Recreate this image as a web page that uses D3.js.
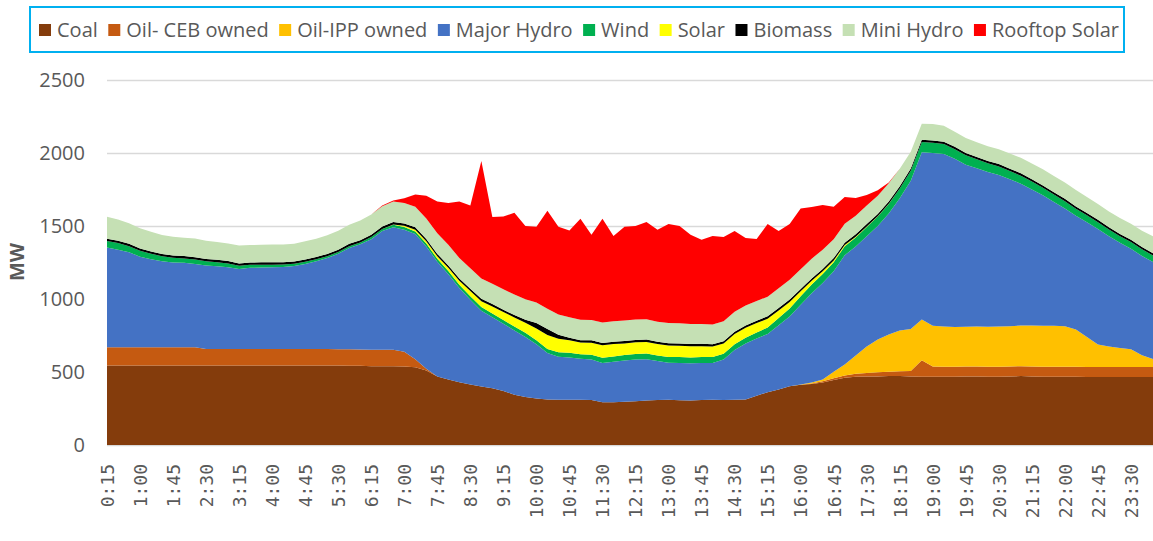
<!DOCTYPE html>
<html>
<head>
<meta charset="utf-8">
<script src="https://cdn.jsdelivr.net/npm/d3@7"></script>
<style>
  html, body { margin: 0; padding: 0; background: #fff; }
  svg { display: block; }
</style>
</head>
<body>
<svg id="chart" width="1153" height="541"></svg>
<script>
const times = ["0:15","0:30","0:45","1:00","1:15","1:30","1:45","2:00","2:15","2:30","2:45","3:00",
"3:15","3:30","3:45","4:00","4:15","4:30","4:45","5:00","5:15","5:30","5:45","6:00",
"6:15","6:30","6:45","7:00","7:15","7:30","7:45","8:00","8:15","8:30","8:45","9:00",
"9:15","9:30","9:45","10:00","10:15","10:30","10:45","11:00","11:15","11:30","11:45","12:00",
"12:15","12:30","12:45","13:00","13:15","13:30","13:45","14:00","14:15","14:30","14:45","15:00",
"15:15","15:30","15:45","16:00","16:15","16:30","16:45","17:00","17:15","17:30","17:45","18:00",
"18:15","18:30","18:45","19:00","19:15","19:30","19:45","20:00","20:15","20:30","20:45","21:00",
"21:15","21:30","21:45","22:00","22:15","22:30","22:45","23:00","23:15","23:30","23:45","0:00"];

const coal = [545,545,545,545,545,545,545,545,545,545,545,545,545,545,545,545,545,545,545,545,545,
544,543,542,540,540,540,538,
532,510,470,448,430,415,400,388,370,345,328,318,312,310,310,310,308,292,292,296,300,304,308,310,306,305,308,310,308,310,312,
338,362,380,402,412,418,428,445,460,468,470,470,472,472,470,468,468,
468,468,470,470,468,468,470,472,470,468,468,468,468,466,466,466,466,466,466,466];

const oilCEB = [125,125,125,125,125,125,125,125,125,
112,112,112,112,112,112,112,112,112,112,112,112,112,112,112,112,112,112,
100,55,12,
0,0,0,0,0,0,0,0,0,0,0,0,0,0,0,0,0,0,0,0,0,0,0,0,0,0,0,0,0,0,0,0,0,0,
4,8,12,16,20,24,28,30,33,36,
112,70,
68,68,68,68,68,68,68,68,68,68,68,68,68,68,68,68,68,68,68,68];

const oilIPP = [0,0,0,0,0,0,0,0,0,0,0,0,0,0,0,0,0,0,0,0,0,0,0,0,0,0,0,0,0,0,0,0,0,0,0,0,0,0,0,0,
0,0,0,0,0,0,0,0,0,0,0,0,0,0,0,0,0,0,0,0,0,0,0,
3,6,12,45,75,125,180,225,255,280,288,280,278,276,272,272,274,274,275,276,278,280,280,280,278,255,205,155,140,130,122,80,55];

const majorHydro = [682,668,650,620,602,588,580,578,570,
573,567,561,548,557,558,560,563,569,583,601,623,
654,695,721,758,813,840,
837,858,838,
785,722,645,580,520,487,460,440,412,372,318,295,290,280,277,270,278,282,285,284,267,253,256,255,254,252,277,340,383,
392,398,440,478,545,612,662,688,
749,747,756,777,828,905,1016,1145,1184,1181,1152,1110,1083,1060,1039,1006,972,932,894,849,806,779,786,791,756,721,689,681,664];

const wind = [45,45,42,40,38,35,32,30,30,28,28,26,
22,20,20,18,16,15,15,14,13,
12,12,12,14,15,16,18,
18,20,20,22,22,24,25,26,26,27,28,28,28,
30,32,32,34,36,36,38,38,38,38,40,40,40,40,40,40,
40,40,40,45,50,55,58,60,62,62,
62,62,64,65,66,66,68,
70,70,68,66,64,62,60,58,56,55,54,52,50,50,48,48,46,46,45,45,45,45];

const solar = [0,0,0,0,0,0,0,0,0,0,0,0,0,0,0,0,0,0,0,0,0,0,0,0,0,0,
3,8,12,15,18,22,28,35,40,48,55,62,70,80,95,
92,85,80,82,85,85,80,80,80,78,78,78,76,75,72,70,
70,68,65,60,52,45,35,25,18,12,8,5,3,2,1,
0,0,0,0,0,0,0,0,0,0,0,0,0,0,0,0,0,0,0,0,0,0,0,0];

const biomass = [16,16,16,16,16,16,16,16,16,16,16,16,16,16,16,16,16,16,16,16,16,16,16,16,16,16,16,16,16,16,16,16,16,16,16,16,16,16,
20,38,42,28,18,
16,16,16,16,16,16,16,16,16,16,16,16,16,16,16,16,16,16,16,16,16,16,16,16,16,16,16,16,16,16,16,16,16,16,16,16,16,16,16,16,16,16,16,16,16,16,16,16,16,16,16,16,16];

const miniHydro = [150,145,140,138,135,130,128,125,128,125,
122,120,123,120,120,122,122,122,125,125,
128,130,130,135,138,140,140,140,140,140,
142,142,140,140,140,140,140,140,140,140,
138,138,140,140,140,140,140,140,140,140,
138,138,138,136,136,136,136,136,136,135,
135,135,135,135,135,132,130,130,128,128,
125,125,120,115,110,112,110,104,102,100,
100,102,104,106,108,110,112,112,112,110,
108,108,108,110,112,115];

const rooftopSolar = [0,0,0,0,0,0,0,0,0,0,0,0,0,0,0,0,0,0,0,0,0,0,0,0,0,
5,8,33,84,157,217,286,387,430,804,457,498,560,502,519,672,602,595,692,583,711,585,643,641,665,630,679,666,612,576,606,578,554,463,425,498,393,383,416,354,306,222,183,121,71,37,5,
0,0,0,0,0,0,0,0,0,0,0,0,0,0,0,0,0,0,0,0,0,0,0,0];

const seriesNames = ["Coal","Oil- CEB owned","Oil-IPP owned","Major Hydro","Wind","Solar","Biomass","Mini Hydro","Rooftop Solar"];
const seriesValues = [coal, oilCEB, oilIPP, majorHydro, wind, solar, biomass, miniHydro, rooftopSolar];
const seriesColors = ["#843C0C","#C55A11","#FFC000","#4472C4","#00B050","#FFFF00","#000000","#C5E0B4","#FF0000"];
const yTicks = [0,500,1000,1500,2000,2500];
const xTickLabels = times.filter((d,i) => i % 3 === 0);

(function draw() {
  const table = times.map((t,i) => {
    const row = {time: t};
    seriesNames.forEach((n,k) => row[n] = seriesValues[k][i]);
    return row;
  });

  const svg = d3.select("#chart");
  const pL = 107, pR = 1153, pT = 80, pB = 445;

  const x = d3.scalePoint().domain(times).range([pL, pR]);
  const y = d3.scaleLinear().domain([0,2500]).range([pB, pT]);

  // gridlines
  svg.append("g")
    .attr("transform", `translate(${pL},0)`)
    .call(d3.axisLeft(y).tickValues(yTicks).tickSize(-(pR-pL)).tickFormat(""))
    .call(g => g.select(".domain").remove())
    .call(g => g.selectAll("line").attr("stroke","#D9D9D9").attr("stroke-width",1.5));

  // stacked areas
  const stacked = d3.stack().keys(seriesNames)(table);
  const area = d3.area()
    .x(d => x(d.data.time))
    .y0(d => y(d[0]))
    .y1(d => y(d[1]));

  svg.append("g").selectAll("path").data(stacked).join("path")
    .attr("d", area)
    .attr("fill", (d,i) => seriesColors[i]);

  // y axis labels
  svg.append("g")
    .attr("transform", `translate(${pL},0)`)
    .call(d3.axisLeft(y).tickValues(yTicks).tickSize(0).tickPadding(22).tickFormat(d3.format("d")))
    .call(g => g.select(".domain").remove())
    .call(g => g.selectAll("text")
       .attr("font-family","'Open Sans', sans-serif")
       .attr("font-size","20px")
       .attr("fill","#595959"));

  // x axis labels
  const xg = svg.append("g")
    .attr("transform", `translate(0,${pB})`)
    .call(d3.axisBottom(x).tickValues(xTickLabels).tickSize(0))
    .call(g => g.select(".domain").remove());
  xg.selectAll(".tick text")
    .attr("font-family","'DejaVu Sans Mono', monospace")
    .attr("font-size","18px")
    .attr("fill","#595959")
    .attr("text-anchor","end")
    .attr("transform","rotate(-90)")
    .attr("x",-19)
    .attr("y",0)
    .attr("dy","0.35em");

  // y axis title
  svg.append("text")
    .attr("transform","translate(24,262) rotate(-90)")
    .attr("text-anchor","middle")
    .attr("font-family","'Open Sans', sans-serif")
    .attr("font-weight","bold")
    .attr("font-size","20px")
    .attr("fill","#595959")
    .text("MW");

  // legend
  svg.append("rect")
    .attr("x",30).attr("y",7).attr("width",1094).attr("height",45)
    .attr("fill","#fff").attr("stroke","#00B0F0").attr("stroke-width",2);

  const lg = svg.append("g");
  const items = lg.selectAll("g").data(seriesNames).join("g");
  items.append("rect").attr("width",12).attr("height",12).attr("y",24)
    .attr("fill",(d,i) => seriesColors[i]);
  items.append("text").attr("x",18).attr("y",37)
    .attr("font-family","'Open Sans', sans-serif")
    .attr("font-size","20px")
    .attr("fill","#595959")
    .text(d => d);
  const widths = [];
  items.select("text").each(function(){ widths.push(this.getComputedTextLength()); });
  const startX = 39, endX = 1119;
  const used = widths.reduce((a,w) => a + 18 + w, 0);
  const gap = (endX - startX - used) / (seriesNames.length - 1);
  let cx = startX;
  items.attr("transform", (d,i) => {
    const t = `translate(${cx},0)`;
    cx += 18 + widths[i] + gap;
    return t;
  });
})();
</script>
</body>
</html>
